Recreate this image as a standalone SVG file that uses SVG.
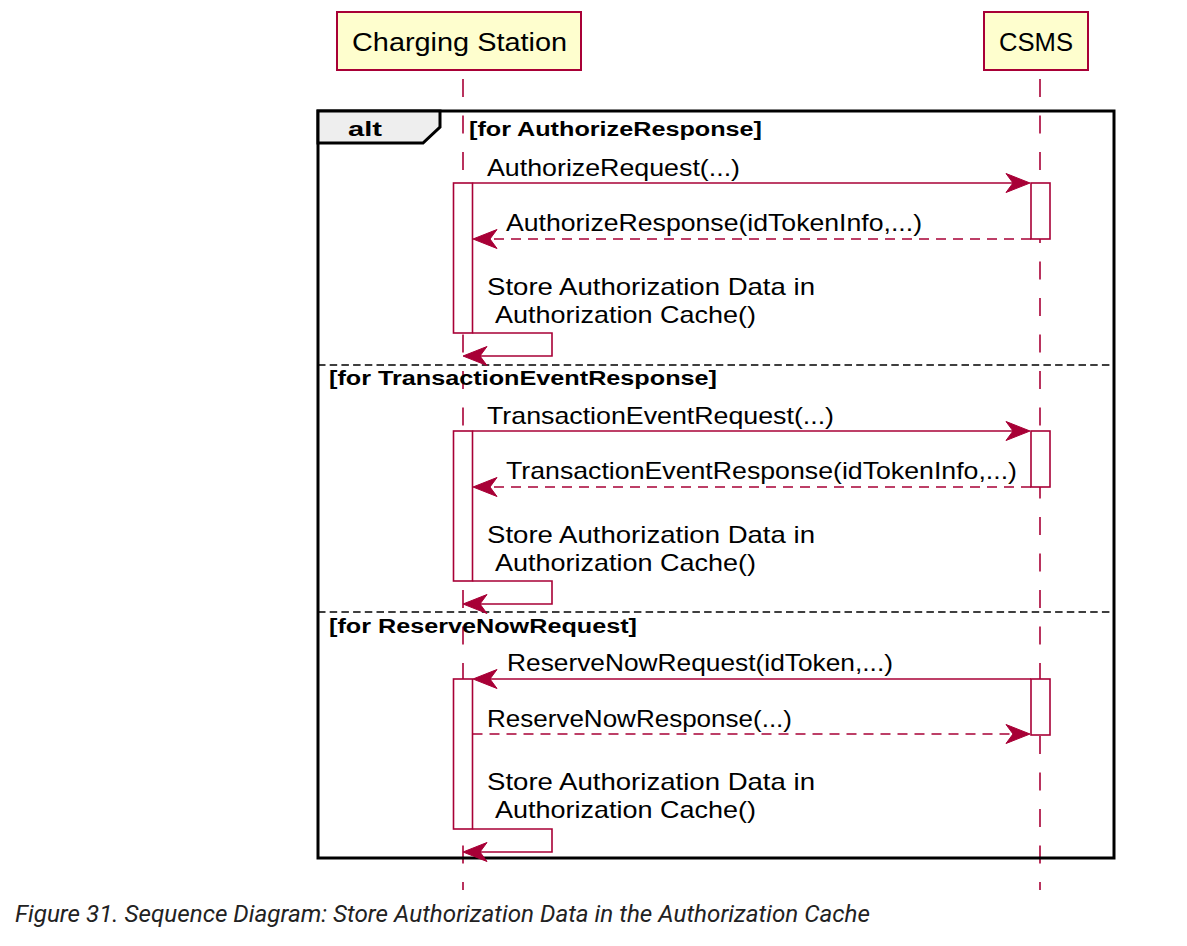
<svg xmlns="http://www.w3.org/2000/svg" width="1187" height="946" viewBox="0 0 1187 946">
<style>
.part{fill:#FEFECE;stroke:#A80036;stroke-width:2}
.ptxt{font-family:"Liberation Sans",Arial,sans-serif;font-size:26px;fill:#000}
.life{stroke:#A80036;stroke-width:1.6;stroke-dasharray:18 18.5;fill:none}
.act{fill:#FFFFFF;stroke:#A80036;stroke-width:1.6}
.msg{stroke:#A80036;stroke-width:1.6;fill:none}
.dash{stroke-dasharray:10 7}
.head{fill:#A80036;stroke:#A80036;stroke-width:1}
.mtxt{font-family:"Liberation Sans",Arial,sans-serif;font-size:24px;fill:#000}
.frame{fill:none;stroke:#000;stroke-width:3}
.tab{fill:#EEEEEE;stroke:#000;stroke-width:3}
.sep{stroke:#000;stroke-width:1.6;stroke-dasharray:7.5 4.2}
.btxt{font-family:"Liberation Sans",Arial,sans-serif;font-size:20px;font-weight:bold;fill:#000}
.cap{font-family:Roboto,"Liberation Sans",sans-serif;font-size:24px;font-style:italic;fill:#222}
</style>
<defs>
<path id="hr" d="M0,0 L-24,-9.5 L-17,0 L-24,9.5 Z" class="head"/>
<path id="hl" d="M0,0 L24,-9.5 L17,0 L24,9.5 Z" class="head"/>
</defs>
<rect width="1187" height="946" fill="#FFFFFF"/>

<g id="lifelines">
<line class="life" x1="463" y1="79" x2="463" y2="890"/>
<line class="life" x1="1040" y1="79" x2="1040" y2="890"/>
</g>

<g id="participant-cs">
<rect class="part" x="337" y="12" width="244" height="58"/>
<text class="ptxt" x="352" y="51" textLength="215" lengthAdjust="spacingAndGlyphs">Charging Station</text>
</g>
<g id="participant-csms">
<rect class="part" x="984" y="12" width="104" height="58"/>
<text class="ptxt" x="999" y="51" textLength="74" lengthAdjust="spacingAndGlyphs">CSMS</text>
</g>

<g id="alt-frame">
<rect class="frame" x="318" y="111" width="796" height="747"/>
<path class="tab" d="M318,111 L440,111 L440,127 L423,143 L318,143 Z"/>
<text class="btxt" x="348" y="136" font-size="22" textLength="34" lengthAdjust="spacingAndGlyphs">alt</text>
<text class="btxt" x="469" y="136" textLength="293" lengthAdjust="spacingAndGlyphs">[for AuthorizeResponse]</text>
<line class="sep" x1="318" y1="365" x2="1114" y2="365"/>
<text class="btxt" x="329" y="385" textLength="388" lengthAdjust="spacingAndGlyphs">[for TransactionEventResponse]</text>
<line class="sep" x1="318" y1="612" x2="1114" y2="612"/>
<text class="btxt" x="329" y="633" textLength="308" lengthAdjust="spacingAndGlyphs">[for ReserveNowRequest]</text>
</g>

<g id="activations">
<rect class="act" x="453.5" y="183" width="19" height="150"/>
<rect class="act" x="1031" y="183" width="19" height="56"/>
<rect class="act" x="453.5" y="431" width="19" height="150"/>
<rect class="act" x="1031" y="431" width="19" height="56"/>
<rect class="act" x="453.5" y="679" width="19" height="150"/>
<rect class="act" x="1031" y="679" width="19" height="56"/>
</g>

<g id="connectors">
<!-- section 1 -->
<line class="msg" x1="472.5" y1="183" x2="1020" y2="183"/>
<use href="#hr" x="1030" y="183"/>
<text class="mtxt" x="487" y="176" textLength="253" lengthAdjust="spacingAndGlyphs">AuthorizeRequest(...)</text>
<line class="msg dash" x1="1031" y1="239" x2="482" y2="239"/>
<use href="#hl" x="473" y="239"/>
<text class="mtxt" x="506" y="231" textLength="416" lengthAdjust="spacingAndGlyphs">AuthorizeResponse(idTokenInfo,...)</text>
<text class="mtxt" x="487" y="295" textLength="328" lengthAdjust="spacingAndGlyphs">Store Authorization Data in</text>
<text class="mtxt" x="495" y="323" textLength="261" lengthAdjust="spacingAndGlyphs">Authorization Cache()</text>
<polyline class="msg" points="472.5,333 552,333 552,356 472,356"/>
<use href="#hl" x="463" y="356"/>

<!-- section 2 -->
<line class="msg" x1="472.5" y1="431" x2="1020" y2="431"/>
<use href="#hr" x="1030" y="431"/>
<text class="mtxt" x="487" y="424" textLength="347" lengthAdjust="spacingAndGlyphs">TransactionEventRequest(...)</text>
<line class="msg dash" x1="1031" y1="487" x2="482" y2="487"/>
<use href="#hl" x="473" y="487"/>
<text class="mtxt" x="506" y="479" textLength="511" lengthAdjust="spacingAndGlyphs">TransactionEventResponse(idTokenInfo,...)</text>
<text class="mtxt" x="487" y="543" textLength="328" lengthAdjust="spacingAndGlyphs">Store Authorization Data in</text>
<text class="mtxt" x="495" y="571" textLength="261" lengthAdjust="spacingAndGlyphs">Authorization Cache()</text>
<polyline class="msg" points="472.5,581 552,581 552,604 472,604"/>
<use href="#hl" x="463" y="604"/>

<!-- section 3 -->
<line class="msg" x1="1031" y1="679" x2="482" y2="679"/>
<use href="#hl" x="473" y="679"/>
<text class="mtxt" x="507" y="671" textLength="386" lengthAdjust="spacingAndGlyphs">ReserveNowRequest(idToken,...)</text>
<line class="msg dash" x1="472.5" y1="734" x2="1020" y2="734"/>
<use href="#hr" x="1030" y="734"/>
<text class="mtxt" x="487" y="727" textLength="305" lengthAdjust="spacingAndGlyphs">ReserveNowResponse(...)</text>
<text class="mtxt" x="487" y="790" textLength="328" lengthAdjust="spacingAndGlyphs">Store Authorization Data in</text>
<text class="mtxt" x="495" y="818" textLength="261" lengthAdjust="spacingAndGlyphs">Authorization Cache()</text>
<polyline class="msg" points="472.5,829 552,829 552,852 472,852"/>
<use href="#hl" x="463" y="852"/>
</g>

<g id="caption">
<text class="cap" x="15" y="922" textLength="855" lengthAdjust="spacingAndGlyphs">Figure 31. Sequence Diagram: Store Authorization Data in the Authorization Cache</text>
</g>
</svg>
